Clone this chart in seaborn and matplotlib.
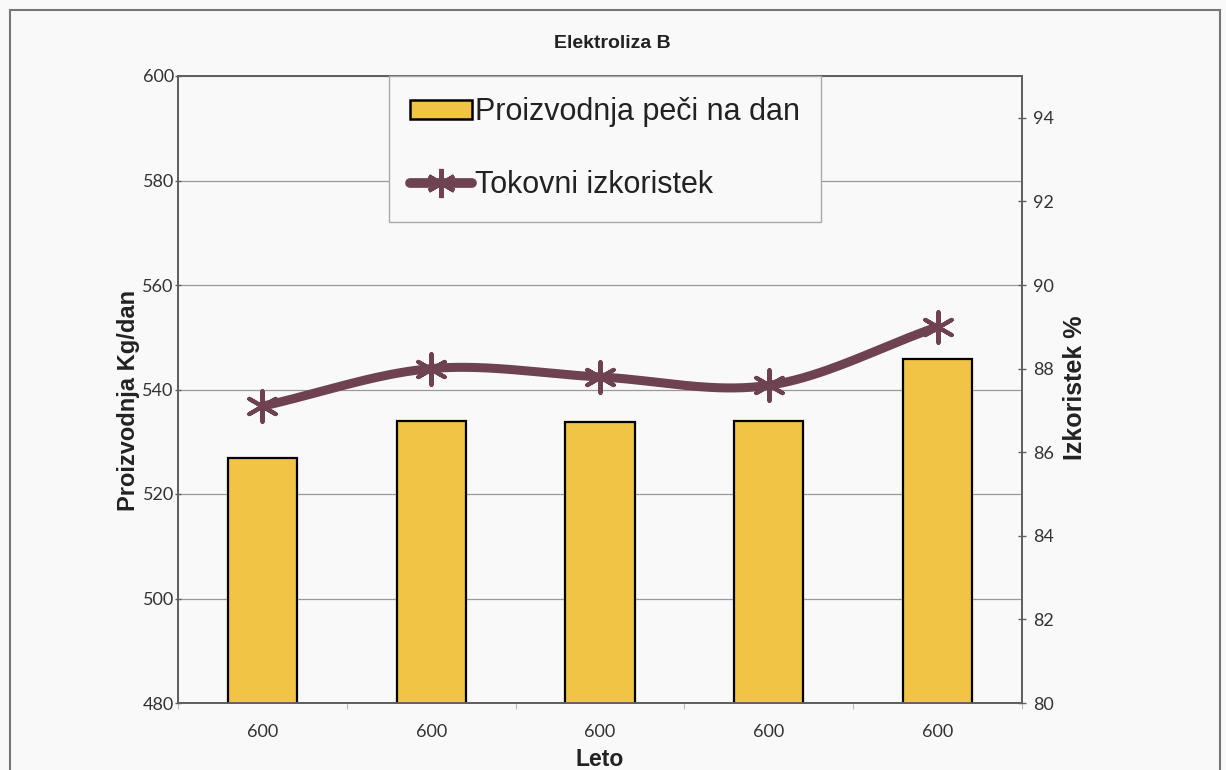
import numpy as np
import matplotlib
matplotlib.use("Agg")
import matplotlib.pyplot as plt
from matplotlib.patches import Patch, Rectangle
from matplotlib.lines import Line2D
import seaborn as sns

# Data
leto = ["600", "600", "600", "600", "600"]
proizvodnja = [526.9, 534.0, 533.8, 534.0, 545.8]   # kg/dan
izkoristek = [87.1, 88.0, 87.8, 87.6, 89.0]          # %

title = "Elektroliza B"
label_bar = "Proizvodnja peči na dan"
label_line = "Tokovni izkoristek"

BAR_COLOR = "#F1C445"
LINE_COLOR = "#6E4251"
BG = "#F9F9F9"
GRID = "#9A9A9A"
AXIS = "#606060"

sns.set_theme(style="white")
plt.rcParams["font.family"] = ["Liberation Sans", "DejaVu Sans"]

fig = plt.figure(figsize=(12.26, 7.70), dpi=100, facecolor=BG)
ax = fig.add_axes([178 / 1226, 1 - 703 / 770, (1022 - 178) / 1226, (703 - 76) / 770])
ax.set_facecolor(BG)

pos = np.arange(len(leto))
sns.barplot(x=pos, y=proizvodnja, ax=ax, color=BAR_COLOR, width=0.41,
            edgecolor="black", linewidth=1.6, saturation=1, zorder=3)

ax.set_ylim(480, 600)
ax.set_yticks(np.arange(480, 601, 20))
ax.set_xlim(-0.5, len(leto) - 0.5)
ax.set_xticks(pos, leto)
ax.set_xticks(np.arange(-0.5, len(leto), 1.0), minor=True)
ax.yaxis.grid(True, color=GRID, linewidth=0.9)
ax.set_axisbelow(True)
for s in ax.spines.values():
    s.set_color(AXIS)
    s.set_linewidth(1.3)

tick_font = "Lato"
ax.tick_params(axis="y", which="major", left=True, direction="inout", length=5, width=1.0,
               color=AXIS, labelsize=13, labelcolor="#333333", pad=0.5)
ax.tick_params(axis="x", which="major", bottom=False, labelsize=13, labelcolor="#333333", pad=9)
ax.tick_params(axis="x", which="minor", bottom=True, length=4, width=0.8, color="#bbbbbb")
for t in ax.get_xticklabels() + ax.get_yticklabels():
    t.set_fontfamily(tick_font)

ax.set_xlabel("Leto", fontsize=16.5, fontweight="bold", color="#222222", labelpad=6)
ax.set_ylabel("Proizvodnja Kg/dan", fontsize=17, fontweight="bold", color="#222222")
ax.yaxis.set_label_coords((140 - 178) / (1022 - 178), (703 - 400) / (703 - 76))

# Secondary axis: smoothed efficiency curve
ax2 = ax.twinx()
ax2.set_ylim(80, 95)
ax2.set_yticks(np.arange(80, 95, 2))


def catmull_rom(x, y, n=40):
    x = np.asarray(x, float)
    y = np.asarray(y, float)
    px = np.concatenate([[2 * x[0] - x[1]], x, [2 * x[-1] - x[-2]]])
    py = np.concatenate([[2 * y[0] - y[1]], y, [2 * y[-1] - y[-2]]])
    xs, ys = [], []
    for i in range(1, len(px) - 2):
        t = np.linspace(0, 1, n, endpoint=(i == len(px) - 3))
        t2, t3 = t * t, t * t * t
        for arr, p in ((xs, px), (ys, py)):
            p0, p1, p2, p3 = p[i - 1], p[i], p[i + 1], p[i + 2]
            arr.append(0.5 * (2 * p1 + (-p0 + p2) * t + (2 * p0 - 5 * p1 + 4 * p2 - p3) * t2
                              + (-p0 + 3 * p1 - 3 * p2 + p3) * t3))
    return np.concatenate(xs), np.concatenate(ys)


sx, sy = catmull_rom(pos, izkoristek)
ax2.plot(sx, sy, color=LINE_COLOR, linewidth=6.5, solid_capstyle="round", zorder=4)
star = (6, 2, 0)
sns.scatterplot(x=pos, y=izkoristek, ax=ax2, marker=star, s=480, color=LINE_COLOR,
                edgecolor=LINE_COLOR, linewidth=3.0, zorder=5, legend=False)

ax2.tick_params(axis="y", right=True, direction="inout", length=6, width=1.0, color=AXIS,
                labelsize=13, labelcolor="#333333", pad=5)
for t in ax2.get_yticklabels():
    t.set_fontfamily(tick_font)
for s in ax2.spines.values():
    s.set_color(AXIS)
    s.set_linewidth(1.3)
ax2.set_ylabel("Izkoristek %", fontsize=18, fontweight="bold", color="#222222")
ax2.yaxis.set_label_coords((1063 - 178) / (1022 - 178), (703 - 388) / (703 - 76))
ax2.grid(False)

# Legend
handles = [
    Patch(facecolor=BAR_COLOR, edgecolor="black", linewidth=1.8),
    Line2D([0], [0], color=LINE_COLOR, linewidth=7, marker=star, markersize=21,
           markeredgewidth=3.0, markeredgecolor=LINE_COLOR),
]
leg = ax2.legend(handles, [label_bar, label_line], loc="upper left",
                 bbox_to_anchor=((389 - 178) / (1022 - 178), 1.0),
                 fontsize=22, frameon=True, fancybox=False, framealpha=1,
                 facecolor=BG, edgecolor="#aaaaaa", borderpad=0.7,
                 labelspacing=1.4, handlelength=2.0, handleheight=0.6,
                 handletextpad=0.1, borderaxespad=0)
leg.get_frame().set_linewidth(1.0)
for t in leg.get_texts():
    t.set_color("#222222")
leg.set_zorder(10)

fig.text(612 / 1226, 1 - 43 / 770, title, ha="center", va="center",
         fontsize=14, fontweight="bold", color="#222222")

# Outer chart frame
fig.patches.append(Rectangle((10 / 1226, -0.05), (1220 - 10) / 1226, 1 - 10 / 770 + 0.05,
                             transform=fig.transFigure, fill=False,
                             edgecolor="#777777", linewidth=1.5, zorder=0))

fig.savefig("out.png", dpi=100, facecolor=BG)
